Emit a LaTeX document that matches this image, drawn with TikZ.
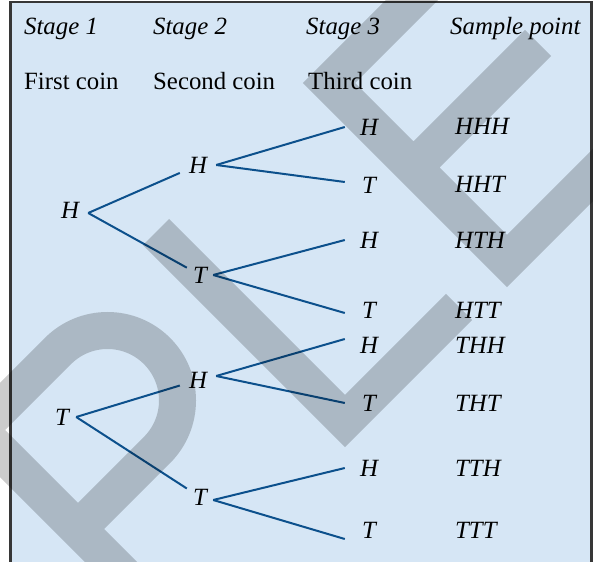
\documentclass[tikz,border=0pt]{standalone}
\usepackage{fontspec}
\setmainfont{Liberation Serif}
\newfontfamily\tnr{Liberation Serif}
\definecolor{boxblue}{RGB}{214,230,245}
\definecolor{boxframe}{RGB}{55,55,55}
\definecolor{treeblue}{RGB}{12,80,140}
\definecolor{wmgray}{RGB}{204,204,204}
\begin{document}
\begin{tikzpicture}[x=1pt,y=-1pt,
  every node/.style={font=\tnr\fontsize{24.8}{30}\selectfont, inner sep=0pt},
  hdr/.style={anchor=base west, font=\tnr\fontsize{24.8}{30}\selectfont\itshape},
  sub/.style={anchor=base west},
  sp/.style={anchor=base west, font=\tnr\fontsize{24.8}{30}\selectfont\itshape},
  lv/.style={font=\tnr\fontsize{24.8}{30}\selectfont\itshape, minimum height=24pt},
  branch/.style={draw=treeblue, line width=2pt},
  wmark/.style={draw=wmgray, line width=37pt, line cap=butt, line join=miter},
]
\useasboundingbox (0,0) rectangle (593,561);
\clip (0,0) rectangle (593,561);
\fill[white] (0,0) rectangle (593,561);
% frame
\fill[boxblue] (10.5,2) rectangle (591.5,600);
\draw[boxframe, line width=2.2pt] (10.5,2) rectangle (591.5,600);

% headers
\node[hdr] (st1) at (24,35) {Stage 1};
\node[hdr] (st2) at (153,35) {Stage 2};
\node[hdr] (st3) at (306,35) {Stage 3};
\node[hdr] (stp) at (450,35) {Sample point};
\node[sub] (c1) at (24,90) {First coin};
\node[sub] (c2) at (153,90) {Second coin};
\node[sub] (c3) at (308,90) {Third coin};

% level 1
\node[lv, minimum width=36pt] (l1h) at (70,210) {H};
\node[lv, minimum width=28pt] (l1t) at (62,417) {T};
% level 2
\node[lv, minimum width=36pt] (l2hh) at (198,165) {H};
\node[lv, minimum width=26pt] (l2ht) at (200,275) {T};
\node[lv, minimum width=36pt] (l2th) at (198,380) {H};
\node[lv, minimum width=26pt] (l2tt) at (200,497) {T};
% level 3
\node[lv, minimum width=48pt] (l3a) at (369,127) {H};
\node[lv, minimum width=48pt] (l3b) at (369,185) {T};
\node[lv, minimum width=48pt] (l3c) at (369,240) {H};
\node[lv, minimum width=48pt] (l3d) at (369,310) {T};
\node[lv, minimum width=48pt] (l3e) at (369,345) {H};
\node[lv, minimum width=48pt] (l3f) at (369,403) {T};
\node[lv, minimum width=48pt] (l3g) at (369,468) {H};
\node[lv, minimum width=48pt] (l3h) at (369,530) {T};
% sample points
\node[sp] (s1) at (455,135) {HHH};
\node[sp] (s2) at (455,193) {HHT};
\node[sp] (s3) at (455,248) {HTH};
\node[sp] (s4) at (455,318) {HTT};
\node[sp] (s5) at (455,353) {THH};
\node[sp] (s6) at (455,411) {THT};
\node[sp] (s7) at (455,476) {TTH};
\node[sp] (s8) at (455,538) {TTT};

% branches
\draw[branch] ([yshift=-3pt]l1h.east) -- (l2hh);
\draw[branch] ([yshift=-3pt]l1h.east) -- (l2ht);
\draw[branch] (l1t.east) -- (l2th);
\draw[branch] (l1t.east) -- (l2tt);
\draw[branch] (l2hh.east) -- (l3a.west);
\draw[branch] (l2hh.east) -- ([yshift=3pt]l3b.west);
\draw[branch] (l2ht.east) -- (l3c.west);
\draw[branch] (l2ht.east) -- ([yshift=-3pt]l3d.west);
\draw[branch] ([yshift=4pt]l2th.east) -- ([yshift=6pt]l3e.west);
\draw[branch] ([yshift=4pt]l2th.east) -- (l3f.west);
\draw[branch] ([yshift=-3pt]l2tt.east) -- (l3g.west);
\draw[branch] ([yshift=-3pt]l2tt.east) -- ([yshift=-9pt]l3h.west);

% watermark (letters P, L, E)
\begin{scope}[blend mode=multiply]
\draw[wmark]
  (168,619) -- (-21,430) -- (58,351) arc[start angle=225, end angle=405, radius=70] -- (78,529)
  (156,232) -- (345,421) -- (459,307)
  (469,-57) -- (329,83) -- (507,261) -- (647,121)
  (414,167) -- (538,43);
\end{scope}
\end{tikzpicture}
\end{document}
